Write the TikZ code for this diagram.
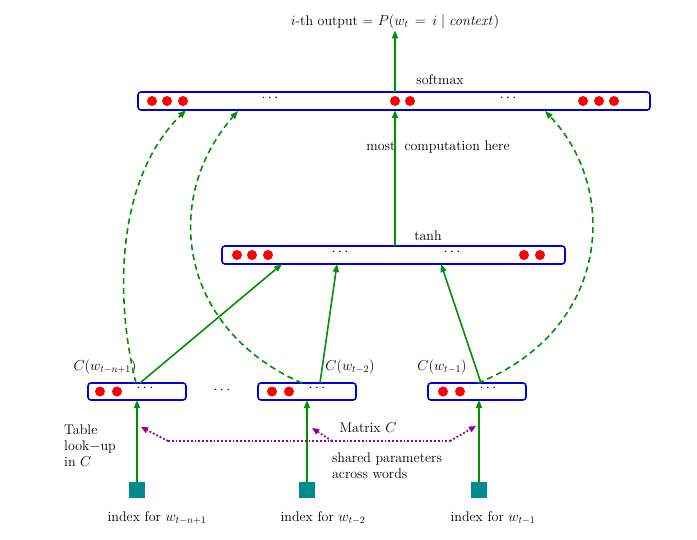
\documentclass[tikz,border=0pt]{standalone}
\usetikzlibrary{arrows.meta}
\definecolor{gr}{RGB}{0,145,0}
\definecolor{bl}{RGB}{0,0,230}
\definecolor{pu}{RGB}{150,0,150}
\definecolor{tl}{RGB}{0,140,140}
\begin{document}
\begin{tikzpicture}[x=1pt,y=-1pt,
  bar/.style={draw=bl,line width=1.6pt,rounded corners=3pt,inner sep=0pt},
  dot/.style={circle,fill=red,inner sep=0pt,minimum size=10pt},
  sol/.style={gr,line width=1.6pt,-{Triangle[length=8pt,width=6pt]}},
  dsh/.style={gr,line width=1.6pt,dash pattern=on 6pt off 4pt,-{Triangle[length=8pt,width=6pt]}},
  pur/.style={pu,line width=1.8pt,dotted,-{Triangle[length=7pt,width=6pt]}},
  sq/.style={fill=tl,inner sep=0pt,minimum size=16pt},
  lbl/.style={font=\fontsize{14}{16}\selectfont,inner sep=1pt}]
\useasboundingbox (0,0) rectangle (697,539);
% bars
\node[bar,minimum width=512pt,minimum height=18pt] (sm) at (394,101) {};
\node[bar,minimum width=343pt,minimum height=18pt] (th) at (393.5,255) {};
\node[bar,minimum width=98pt,minimum height=17pt] (b1) at (137,391.5) {};
\node[bar,minimum width=98pt,minimum height=17pt] (b2) at (307,391.5) {};
\node[bar,minimum width=98pt,minimum height=17pt] (b3) at (477,391.5) {};
% dots
\foreach \x in {152,167,183,395,410,583,599,614} \node[dot] at (\x,101) {};
\foreach \x in {237,252,268,524,540} \node[dot] at (\x,255) {};
\foreach \x in {100,117,272,289,443,460} \node[dot] at (\x,391.5) {};
\foreach \x/\y in {270/101,508/101,340/255,452/255,145/391,317/391,488/391,222/393}
  \node[lbl] at (\x,\y-3) {$\cdots$};
% labels
\node[lbl] (out) at (395,22) {$i$-th output = $P(w_t\,=\,i\;|\;\mathit{context})$};
\node[lbl] at (440,80) {softmax};
\node[lbl] at (438,147) {most\ \ computation here};
\node[lbl] at (428,236) {tanh};
\node[lbl] at (105,367) {$C(w_{t-n+1})$};
\node[lbl] at (350,367) {$C(w_{t-2})$};
\node[lbl] at (442,367) {$C(w_{t-1})$};
% arrows
\draw[sol] (395,92) -- (out.south);
\draw[sol] (395,246) -- (395,110);
\draw[sol] (140,383) -- (282,264);
\draw[sol] (320,383) -- (337,264);
\draw[sol] (481,383) -- (441,264);
\draw[dsh] (136,383) .. controls (115,300) and (115,180) .. (186,110);
\draw[dsh] (302,383) .. controls (180,330) and (160,200) .. (238,111);
\draw[dsh] (478,383) .. controls (610,330) and (620,190) .. (545,111);
% inputs
\node[sq] (s1) at (137,490) {};
\node[sq] (s2) at (307,490) {};
\node[sq] (s3) at (479,490) {};
\draw[sol] (s1.north) -- (137,400);
\draw[sol] (s2.north) -- (307,400);
\draw[sol] (s3.north) -- (479,400);
\node[lbl] at (157,518) {index for $w_{t-n+1}$};
\node[lbl] at (323,518) {index for $w_{t-2}$};
\node[lbl] at (493,518) {index for $w_{t-1}$};
% shared
\coordinate (pl) at (168,441);
\coordinate (pr) at (450,441);
\draw[pu,line width=1.8pt,dotted] (pl) -- (pr);
\draw[pur] (pl) -- (141,427);
\draw[pur] (pr) -- (476,426);
\draw[pur] (332,441) -- (312,428);
\node[lbl,align=left] at (90,446) {Table\\ look$-$up\\ in $C$};
\node[lbl] at (368,428) {Matrix $C$};
\node[lbl,align=left] at (387,466) {shared parameters\\across words};
\end{tikzpicture}
\end{document}
